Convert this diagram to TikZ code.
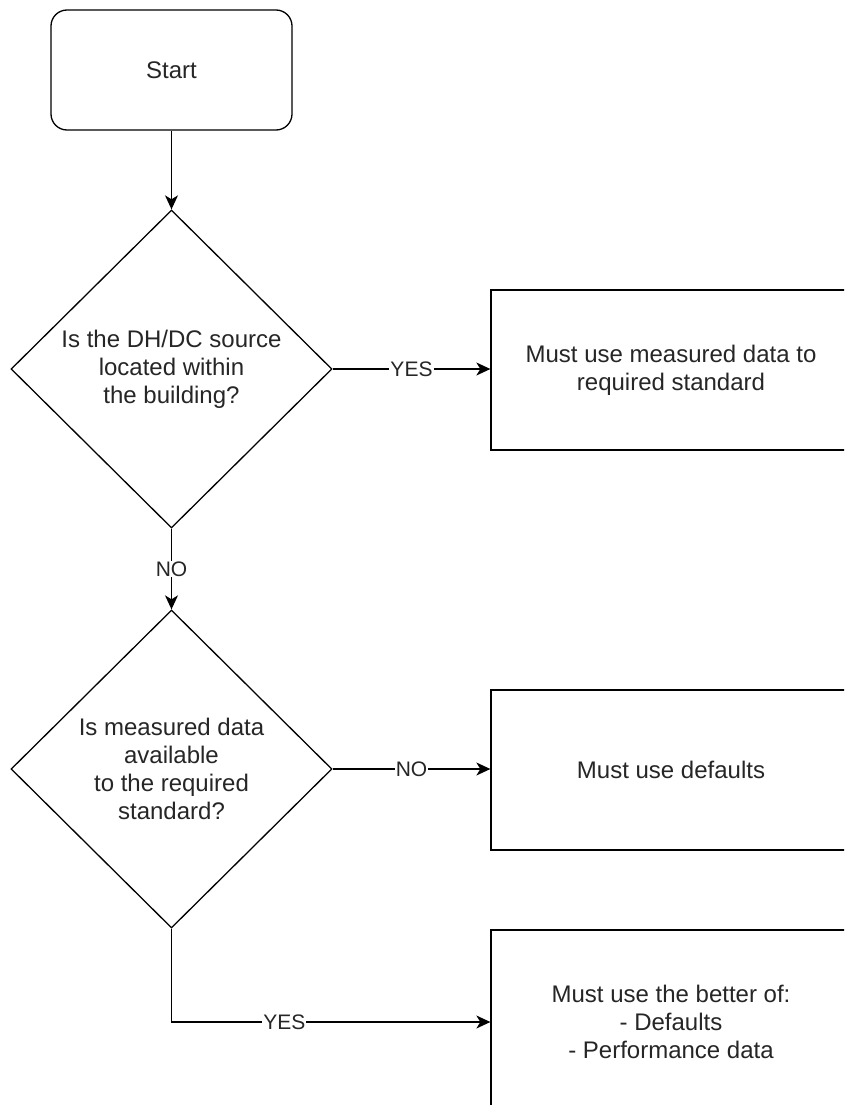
\documentclass[tikz,border=0pt]{standalone}
\usepackage{fontspec}
\setmainfont{Liberation Sans}
\usetikzlibrary{shapes.geometric,arrows.meta}
\begin{document}
\begin{tikzpicture}[x=1pt,y=-1pt,
  every node/.style={font=\fontsize{24}{28}\selectfont, text=black!85},
  startbox/.style={draw, line width=1.3pt, rounded corners=16pt, minimum width=241pt, minimum height=120pt, inner sep=0},
  decision/.style={draw, diamond, line width=1.3pt, minimum width=321pt, minimum height=318pt, inner sep=0, align=center},
  actbox/.style={draw, line width=1.3pt, minimum width=360pt, minimum height=160pt, inner sep=0, align=center},
  conn/.style={line width=1.3pt, -{Stealth[length=14pt,width=13pt,inset=4pt]}},
  lbl/.style={fill=white, inner sep=1pt, font=\fontsize{21}{25}\selectfont}
]
\useasboundingbox (0,0) rectangle (844,1105);
\clip (0,0) rectangle (844,1105);
\fill[white] (0,0) rectangle (844,1105);

\node[startbox] (start) at (171.5,70) {Start};
\node[decision] (d1) at (171.5,369) {Is the DH/DC source\\located within\\the building?};
\node[actbox] (b1) at (671,370) {Must use measured data to\\required standard};
\node[decision] (d2) at (171.5,769) {Is measured data\\available\\to the required\\standard?};
\node[actbox] (b2) at (671,770) {Must use defaults};
\node[actbox, minimum height=184pt] (b3) at (671,1022) {Must use the better of:\\- Defaults\\- Performance data};

\draw[conn] (start) -- (d1);
\draw[conn] (d1.east) -- node[lbl]{YES} (d1.east -| b1.west);
\draw[conn] (d1) -- node[lbl]{NO} (d2);
\draw[conn] (d2.east) -- node[lbl]{NO} (d2.east -| b2.west);
\draw[conn] (d2.south) |- node[lbl, pos=0.677]{YES} (b3.west);
\end{tikzpicture}
\end{document}
